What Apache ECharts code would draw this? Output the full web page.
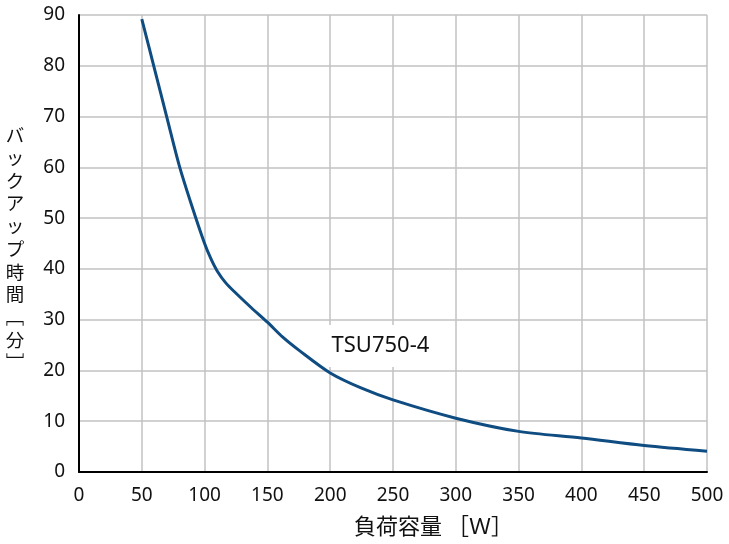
<!DOCTYPE html>
<html>
<head>
<meta charset="utf-8">
<script src="https://cdn.jsdelivr.net/npm/echarts@6/dist/echarts.min.js"></script>
<style>
html,body{margin:0;padding:0;background:#fff;}
#chart{width:729px;height:544px;}
</style>
</head>
<body>
<div id="chart"></div>
<script>
// Data
const loadW = [50, 60, 70, 80, 90, 100, 105, 110, 117, 125, 137, 150, 162, 175, 200, 225, 250, 300, 350, 400, 450, 500];
const backupMin = [89.2, 79.5, 69.8, 60.2, 52.3, 45.0, 42.0, 39.6, 37.2, 35.2, 32.4, 29.5, 26.6, 24.0, 19.5, 16.5, 14.2, 10.6, 8.0, 6.7, 5.2, 4.1];
const seriesName = 'TSU750-4';
const labelAt = [240, 24.8];
const xTitle = '負荷容量 ［Ｗ］';
const yTitleChars = ['バ','ッ','ク','ア','ッ','プ','時','間','﹇','分','﹈'];

const chart = echarts.init(document.getElementById('chart'), null, {renderer: 'canvas'});
const lineColor = '#0f4c81';
const gridColor = '#c2c2c2';
const tickFont = {fontFamily: 'Noto Sans', fontSize: 19, color: '#111'};

chart.setOption({
  animation: false,
  backgroundColor: '#fff',
  grid: {left: 79, right: 22, top: 15, bottom: 72, containLabel: false},
  xAxis: {
    type: 'value', min: 0, max: 500, interval: 50,
    axisLine: {show: true, lineStyle: {color: '#000', width: 2}},
    axisTick: {show: false},
    axisLabel: Object.assign({margin: 14}, tickFont),
    splitLine: {show: true, showMinLine: false, lineStyle: {color: gridColor, width: 1.5}}
  },
  yAxis: {
    type: 'value', min: 0, max: 90, interval: 10,
    axisLine: {show: true, lineStyle: {color: '#000', width: 2}},
    axisTick: {show: false},
    axisLabel: Object.assign({margin: 14}, tickFont),
    splitLine: {show: true, showMinLine: false, lineStyle: {color: gridColor, width: 1.5}}
  },
  series: [{
    name: seriesName,
    type: 'line',
    smooth: 0.3,
    showSymbol: false,
    lineStyle: {color: lineColor, width: 3},
    data: loadW.map((x, i) => [x, backupMin[i]]),
    markPoint: {
      symbol: 'rect',
      symbolSize: [112, 42],
      itemStyle: {color: '#fff'},
      label: {show: true, position: 'inside', color: '#111', fontFamily: 'Noto Sans', fontSize: 22, formatter: seriesName},
      data: [{coord: labelAt}]
    }
  }],
  graphic: [
    {
      type: 'text', left: 354, top: 515,
      style: {text: xTitle, fontFamily: 'Noto Sans CJK JP', fontSize: 22, fill: '#111'}
    },
    {
      type: 'text', x: 15, y: 124,
      style: {text: yTitleChars.join('\n'), fontFamily: 'Noto Sans CJK JP', fontSize: 18.5, lineHeight: 22.7,
              align: 'center', verticalAlign: 'top', fill: '#111'}
    }
  ]
});
</script>
</body>
</html>
